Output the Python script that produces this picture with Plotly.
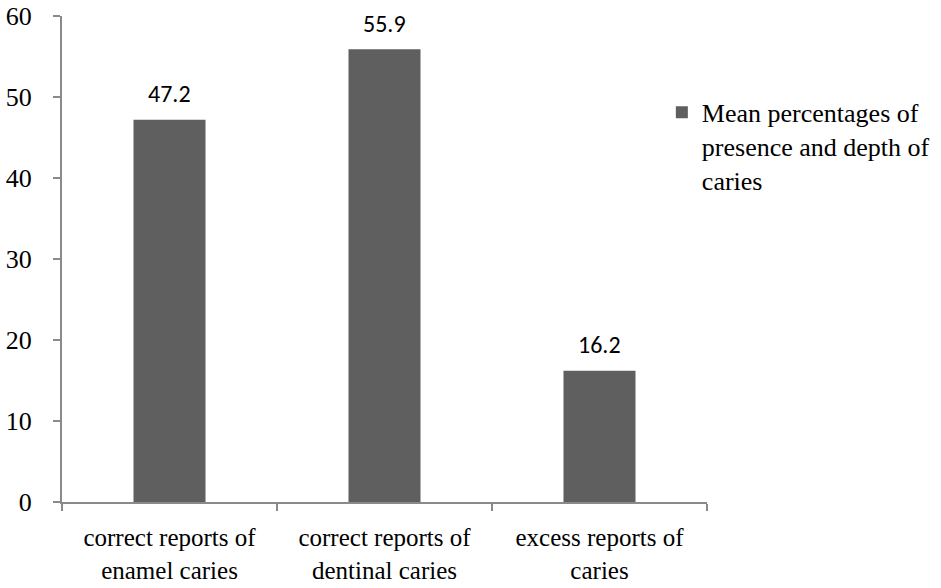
import plotly.graph_objects as go

categories = ["correct reports of<br>enamel caries",
              "correct reports of<br>dentinal caries",
              "excess reports of<br>caries"]
values = [47.2, 55.9, 16.2]
series_name = "Mean percentages of<br>presence and depth of<br>caries"
y_ticks = [0, 10, 20, 30, 40, 50, 60]

serif = "Liberation Serif, Times New Roman, serif"
sans = "Carlito, Lato, Liberation Sans, sans-serif"
axis_color = "#8a8a8a"

fig = go.Figure()
fig.add_trace(go.Bar(
    x=categories, y=values, name=series_name,
    marker=dict(color="#5f5f5f", line=dict(width=0)),
    width=0.335, showlegend=True,
))

for c, v in zip(categories, values):
    fig.add_annotation(x=c, y=v, text=f"{v}", showarrow=False,
                       yanchor="middle", yshift=26,
                       font=dict(family=sans, size=24, color="#000000"))

fig.update_layout(
    width=941, height=588,
    margin=dict(l=62, r=234, t=16, b=86, autoexpand=False),
    paper_bgcolor="white", plot_bgcolor="white",
    font=dict(family=serif, size=26, color="#000000"),
    showlegend=True,
    legend=dict(x=0.93, xanchor="left", y=0.85, yanchor="top",
                valign="top",
                font=dict(family=serif, size=26, color="#000000"),
                bgcolor="rgba(0,0,0,0)", itemwidth=30,
                tracegroupgap=0),
    bargap=0.665,
)
fig.update_xaxes(
    showline=True, linecolor=axis_color, linewidth=2,
    ticks="outside", tickson="boundaries", ticklen=7, tickwidth=2,
    tickcolor=axis_color, showgrid=False, zeroline=False,
    range=[-0.5, 2.5], ticklabelstandoff=12, automargin=False,
    tickfont=dict(family=serif, size=25, color="#000000"),
)
fig.update_yaxes(
    showline=True, linecolor=axis_color, linewidth=2,
    ticks="outside", ticklen=7, tickwidth=2, tickcolor=axis_color,
    showgrid=False, zeroline=False, range=[0, 60],
    tickvals=y_ticks, ticktext=[str(t) for t in y_ticks],
    ticklabelstandoff=16, automargin=False,
    tickfont=dict(family=serif, size=26, color="#000000"),
)

fig.write_html("out.html")
